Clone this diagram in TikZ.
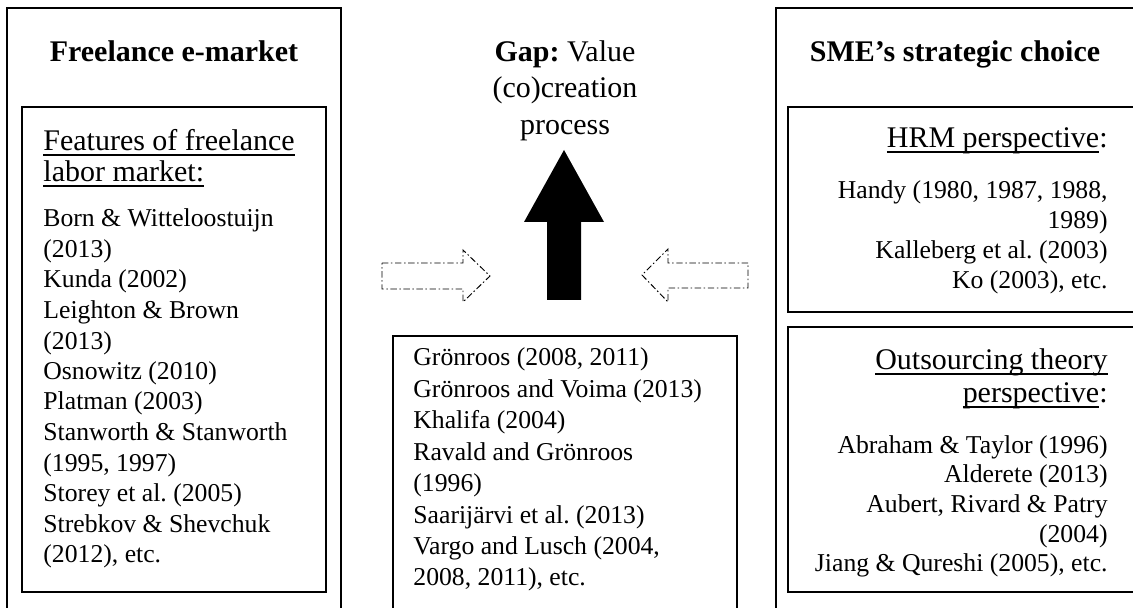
\documentclass[tikz,border=0pt]{standalone}
\usepackage{fontspec}
\setmainfont{Liberation Serif}
\usetikzlibrary{positioning}
\frenchspacing

\newcommand{\uln}[1]{\setbox0\hbox{#1}\rlap{\rule[-2.2pt]{\wd0}{0.6pt}}\box0}

\tikzset{
	box/.style={draw, line width=0.6pt},
	dashbox/.style={draw, line width=0.45pt, dash pattern=on 3pt off 1.2pt on 0.7pt off 1.2pt},
	title/.style={font=\fontsize{14}{16}\selectfont\bfseries, anchor=base},
	subtitle/.style={font=\fontsize{14}{16}\selectfont, inner sep=0pt},
	ref/.style={font=\fontsize{12}{14}\selectfont, inner sep=0pt}
}

\begin{document}
\begin{tikzpicture}[x=0.467pt, y=-0.467pt]
		\useasboundingbox (0,0) rectangle (1133,608);
		\clip (0,0) rectangle (1133,608);
		% three columns
		\draw[box] (7,8) rectangle (341,640);
		\draw[box] (22,107) rectangle (326,592);
		\draw[box] (393,336) rectangle (737,640);
		\draw[box] (776,8) rectangle (1150,640);
		\draw[box] (788,107) rectangle (1150,312);
		\draw[box] (788,327) rectangle (1150,592);
		% headings
		\node[title] (market) at (174,62) {Freelance e-market};
		\node[title] (sme) at (955,62) {SME’s strategic choice};
		\node[subtitle, anchor=base] (gap-1) at (565,62) {\textbf{Gap:} Value};
		\node[subtitle, anchor=base] (gap-2) at (565,98) {(co)creation};
		\node[subtitle, anchor=base] (gap-3) at (565,135) {process};
		% freelance market
		\node[subtitle, anchor=base west] (feat-1) at (43,151) {\uln{Features of freelance}};
		\node[subtitle, anchor=base west] (feat-2) at (43,182) {\uln{labor market:}};
		\foreach \r [count=\i from 0] in {Born \& Witteloostuijn, (2013), Kunda (2002), Leighton \& Brown, (2013), Osnowitz (2010), Platman (2003), Stanworth \& Stanworth, {(1995, 1997)}, Storey et al. (2005), Strebkov \& Shevchuk, {(2012), etc.}} {
			\node[ref, anchor=base west] (fm-\i) at (43,227+30.5*\i) {\r};
		}
		% value co-creation
		\foreach \r [count=\i from 0] in {{Grönroos (2008, 2011)}, Grönroos and Voima (2013), Khalifa (2004), Ravald and Grönroos, (1996), Saarijärvi et al. (2013), {Vargo and Lusch (2004,}, {2008, 2011), etc.}} {
			\node[ref, anchor=base west] (vc-\i) at (413,366+31.4*\i) {\r};
		}
		% SME choice
		\node[subtitle, anchor=base east] (hrm) at (1108,148) {\uln{HRM perspective}:};
		\foreach \r [count=\i from 0] in {{Handy (1980, 1987, 1988,}, 1989), Kalleberg et al. (2003), {Ko (2003), etc.}} {
			\node[ref, anchor=base east] (hr-\i) at (1108,199+30*\i) {\r};
		}
		\node[subtitle, anchor=base east] (out-1) at (1108,370) {\uln{Outsourcing theory}};
		\node[subtitle, anchor=base east] (out-2) at (1108,403) {\uln{perspective}:};
		\foreach \r [count=\i from 0] in {Abraham \& Taylor (1996), Alderete (2013), {Aubert, Rivard \& Patry}, (2004), {Jiang \& Qureshi (2005), etc.}} {
			\node[ref, anchor=base east] (os-\i) at (1108,453+29.7*\i) {\r};
		}
		% arrows
		\fill (547,300) -- (547,222) -- (524,222) -- (564,150) -- (604,222) -- (581,222) -- (581,300) -- cycle;
		\draw[dashbox] (382,263) -- (463,263) -- (463,250) -- (490,276) -- (463,302) -- (463,289) -- (382,289) -- cycle;
		\draw[dashbox] (748,263) -- (668,263) -- (668,249) -- (642,275) -- (668,302) -- (668,288) -- (748,288) -- cycle;
	\end{tikzpicture}
\end{document}
